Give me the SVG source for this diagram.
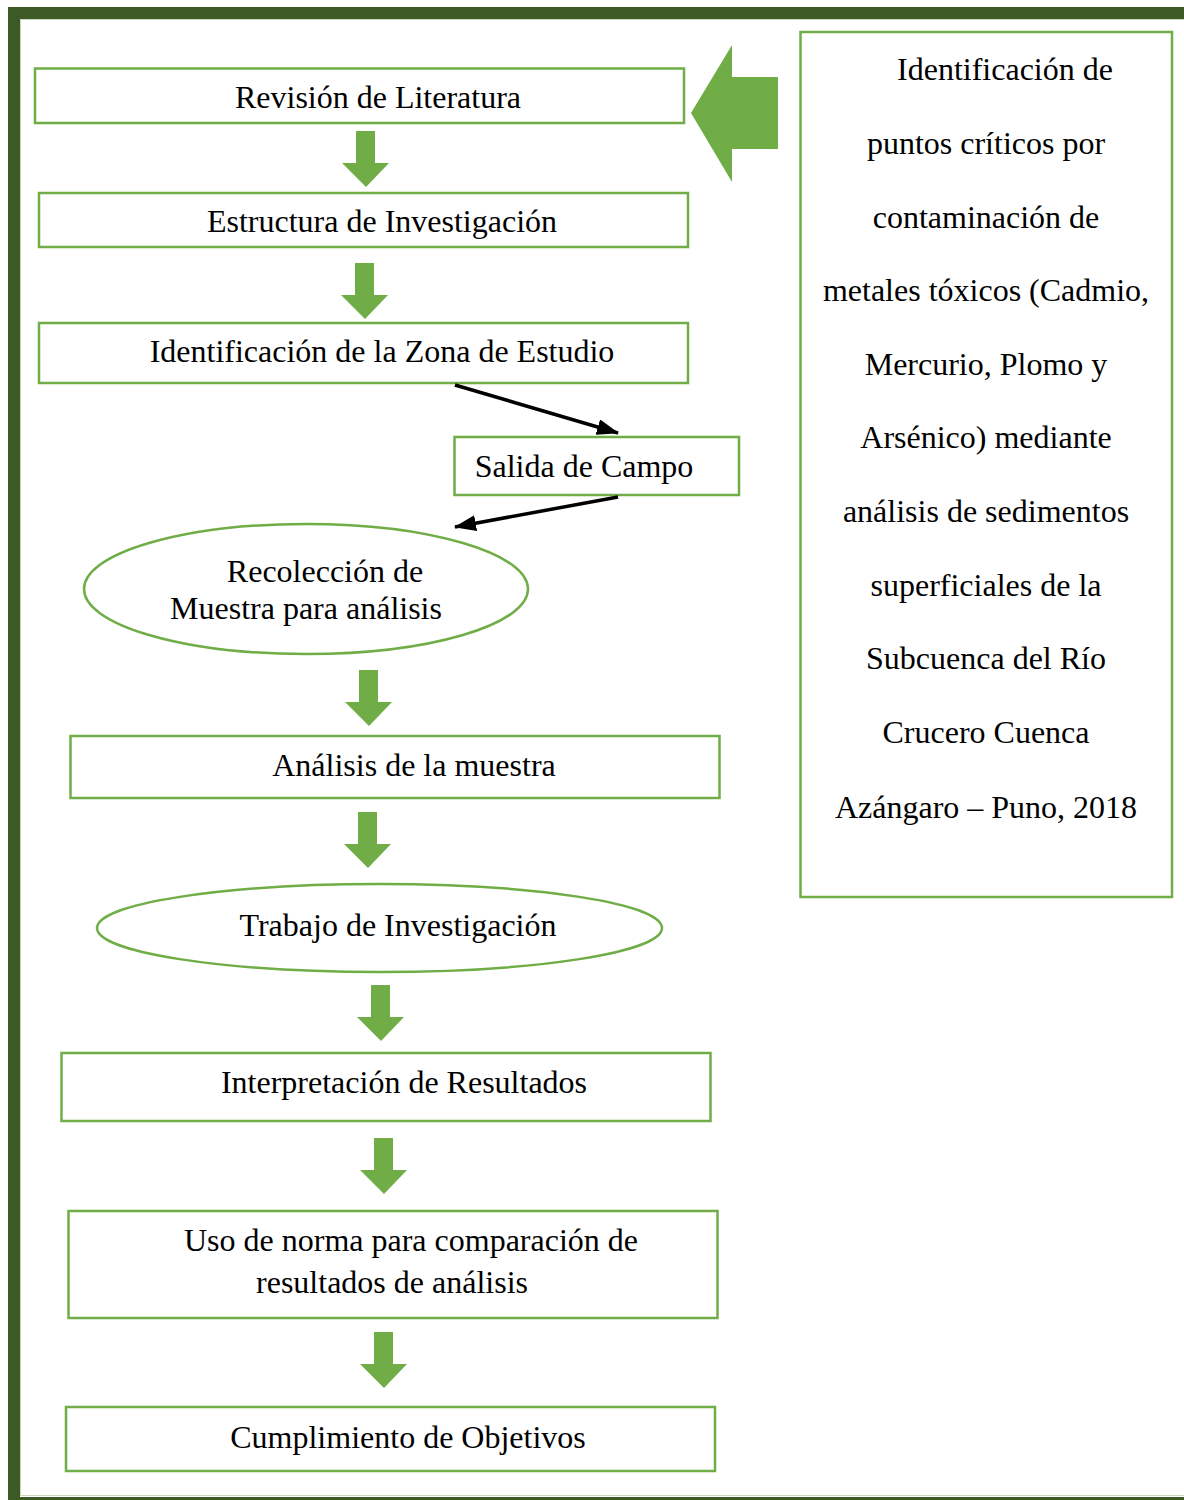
<svg xmlns="http://www.w3.org/2000/svg" width="1184" height="1500" viewBox="0 0 1184 1500">
<defs>
<style>
.box{fill:#ffffff;stroke:#70ad47;stroke-width:2.5}
.t{font-family:"Liberation Serif","Times New Roman",serif;font-size:32px;fill:#000;text-anchor:middle}
.garrow{fill:#70ad47}
.conn{stroke:#000;stroke-width:3.5;fill:none}
</style>
<marker id="ah" markerUnits="userSpaceOnUse" markerWidth="22" markerHeight="16" refX="21" refY="8" orient="auto">
<path d="M0,0 L22,8 L0,16 z" fill="#000"/>
</marker>
<path id="dn" d="M-9,0 H10 V32 H24 L1,56 L-23,32 H-9 z"/>
</defs>
<rect x="0" y="0" width="1184" height="1500" fill="#ffffff"/>
<rect x="14" y="13" width="1200" height="1490" fill="none" stroke="#3b5a26" stroke-width="12"/>
<rect x="20.5" y="19.5" width="1200" height="1476" fill="none" stroke="#c9d8bb" stroke-width="1"/>

<g id="n1"><rect class="box" x="35" y="68.5" width="649" height="54.5"/><text class="t" x="378" y="108">Revisión de Literatura</text></g>
<g id="n2"><rect class="box" x="39" y="193" width="649" height="54"/><text class="t" x="382" y="232">Estructura de Investigación</text></g>
<g id="n3"><rect class="box" x="39" y="323" width="649" height="60"/><text class="t" x="382" y="362">Identificación de la Zona de Estudio</text></g>
<g id="n4"><rect class="box" x="454.5" y="437" width="284.5" height="58"/><text class="t" x="584" y="477">Salida de Campo</text></g>
<g id="n5"><ellipse class="box" cx="306" cy="589" rx="222" ry="65"/><text class="t" x="325" y="582">Recolección de</text><text class="t" x="306" y="619">Muestra para análisis</text></g>
<g id="n6"><rect class="box" x="70.5" y="736" width="649" height="62"/><text class="t" x="414" y="776">Análisis de la muestra</text></g>
<g id="n7"><ellipse class="box" cx="379.5" cy="928" rx="282.5" ry="44"/><text class="t" x="398" y="936">Trabajo de Investigación</text></g>
<g id="n8"><rect class="box" x="61.5" y="1053" width="649" height="68"/><text class="t" x="404" y="1093">Interpretación de Resultados</text></g>
<g id="n9"><rect class="box" x="68.5" y="1211" width="649" height="107"/><text class="t" x="411" y="1251">Uso de norma para comparación de</text><text class="t" x="392" y="1293">resultados de análisis</text></g>
<g id="n10"><rect class="box" x="66" y="1407" width="649" height="64"/><text class="t" x="408" y="1448">Cumplimiento de Objetivos</text></g>
<g id="n11"><rect class="box" x="800.5" y="32" width="371.5" height="865"/>
<text class="t" x="1005" y="80">Identificación de</text>
<text class="t" x="986" y="154">puntos críticos por</text>
<text class="t" x="986" y="228">contaminación de</text>
<text class="t" x="986" y="301">metales tóxicos (Cadmio,</text>
<text class="t" x="986" y="375">Mercurio, Plomo y</text>
<text class="t" x="986" y="448">Arsénico) mediante</text>
<text class="t" x="986" y="522">análisis de sedimentos</text>
<text class="t" x="986" y="596">superficiales de la</text>
<text class="t" x="986" y="669">Subcuenca del Río</text>
<text class="t" x="986" y="743">Crucero Cuenca</text>
<text class="t" x="986" y="818">Azángaro – Puno, 2018</text>
</g>

<g id="connectors">
<polygon class="garrow" points="691,113 732,45 732,77 778,77 778,149 732,149 732,182"/>
<use href="#dn" class="garrow" x="365" y="131"/>
<use href="#dn" class="garrow" x="364" y="263"/>
<use href="#dn" class="garrow" x="368" y="670"/>
<use href="#dn" class="garrow" x="367" y="812"/>
<use href="#dn" class="garrow" x="380" y="985"/>
<use href="#dn" class="garrow" x="383" y="1138"/>
<use href="#dn" class="garrow" x="383" y="1332"/>
<line class="conn" x1="455" y1="385" x2="618" y2="433" marker-end="url(#ah)"/>
<line class="conn" x1="618" y1="497" x2="455" y2="527" marker-end="url(#ah)"/>
</g>
</svg>
